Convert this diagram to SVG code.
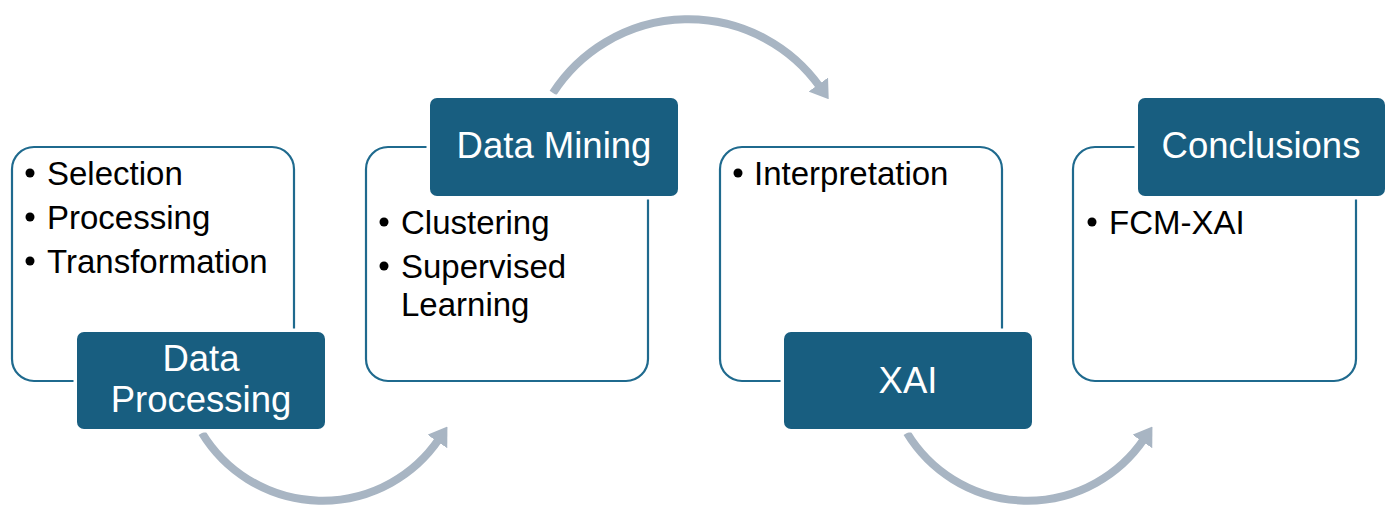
<svg xmlns="http://www.w3.org/2000/svg" width="1392" height="506" viewBox="0 0 1392 506">
<style>
.frame{fill:#ffffff;stroke:#1f6a8e;stroke-width:2.2}
.label{fill:#185e80;stroke:#ffffff;stroke-width:7;paint-order:stroke}
.lt{font-family:"Liberation Sans",Arial,sans-serif;font-size:36.5px;fill:#ffffff;text-anchor:middle}
.bt{font-family:"Liberation Sans",Arial,sans-serif;font-size:33px;fill:#000000}
.dot{fill:#000000}
.arc{fill:none;stroke:#a8b5c3;stroke-width:8}
</style>
<defs>
<marker id="ah" markerUnits="userSpaceOnUse" viewBox="0 0 18 24" refX="3" refY="12" markerWidth="18" markerHeight="24" orient="auto">
<path d="M0,0 L18,12 L0,24 Z" fill="#a8b5c3"/>
</marker>
</defs>
<rect width="1392" height="506" fill="#ffffff"/>
<g id="connectors">
<path class="arc" d="M202,433 A141,141 0 0 0 439,439" marker-end="url(#ah)"/>
<path class="arc" d="M553,93 A161.5,161.5 0 0 1 820,87" marker-end="url(#ah)"/>
<path class="arc" d="M907,433 A141,141 0 0 0 1144,439" marker-end="url(#ah)"/>
</g>
<g id="node-data-processing">
<rect class="frame" x="12" y="147" width="282" height="234" rx="22"/>
<circle class="dot" cx="30" cy="173" r="4.5"/>
<text class="bt" x="47" y="185">Selection</text>
<circle class="dot" cx="30" cy="217" r="4.5"/>
<text class="bt" x="47" y="229">Processing</text>
<circle class="dot" cx="30" cy="261" r="4.5"/>
<text class="bt" x="47" y="273">Transformation</text>
<rect class="label" x="77" y="332" width="248" height="97" rx="7"/>
<text class="lt" x="201" y="371">Data</text>
<text class="lt" x="201" y="412">Processing</text>
</g>
<g id="node-data-mining">
<rect class="frame" x="366" y="147" width="282" height="234" rx="22"/>
<rect class="label" x="430" y="98" width="248" height="98" rx="7"/>
<text class="lt" x="554" y="158">Data Mining</text>
<circle class="dot" cx="384" cy="222" r="4.5"/>
<text class="bt" x="401" y="234">Clustering</text>
<circle class="dot" cx="384" cy="266" r="4.5"/>
<text class="bt" x="401" y="278">Supervised</text>
<text class="bt" x="401" y="316">Learning</text>
</g>
<g id="node-xai">
<rect class="frame" x="720" y="147" width="282" height="234" rx="22"/>
<circle class="dot" cx="738" cy="173" r="4.5"/>
<text class="bt" x="754" y="185">Interpretation</text>
<rect class="label" x="784" y="332" width="248" height="97" rx="7"/>
<text class="lt" x="908" y="393">XAI</text>
</g>
<g id="node-conclusions">
<rect class="frame" x="1073" y="147" width="283" height="234" rx="22"/>
<rect class="label" x="1138" y="98" width="247" height="98" rx="7"/>
<text class="lt" x="1261" y="158">Conclusions</text>
<circle class="dot" cx="1092" cy="222" r="4.5"/>
<text class="bt" x="1109" y="234">FCM-XAI</text>
</g>
</svg>
